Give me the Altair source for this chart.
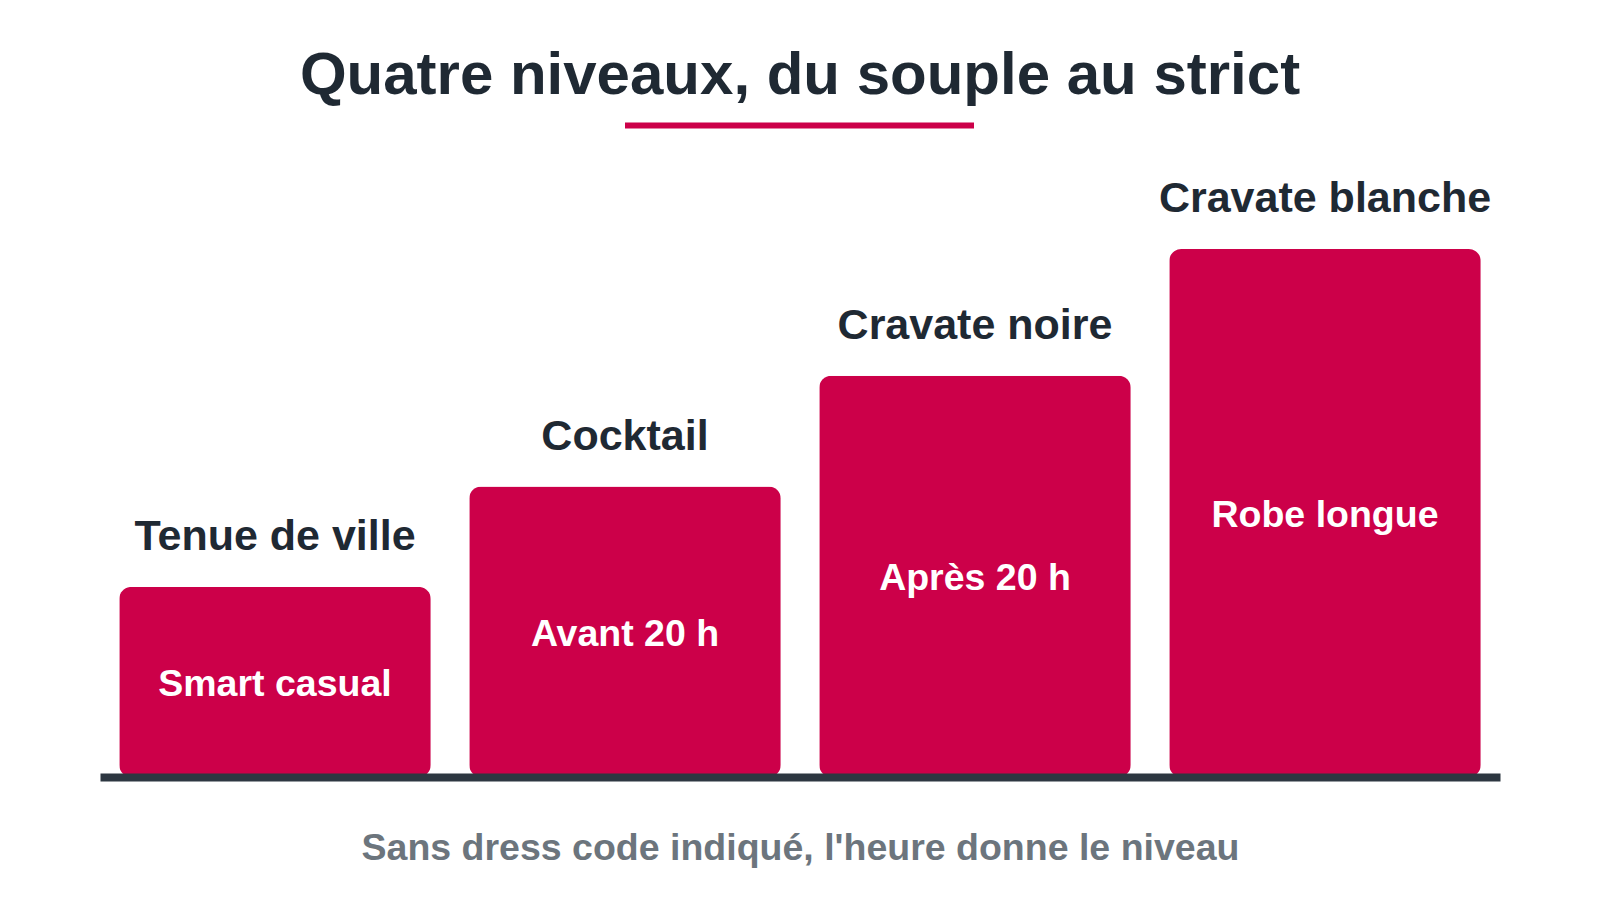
import altair as alt
import pandas as pd

# Données
niveaux = ["Tenue de ville", "Cocktail", "Cravate noire", "Cravate blanche"]
tenues = ["Smart casual", "Avant 20 h", "Après 20 h", "Robe longue"]
formalite = [36, 55, 76, 100]

titre = "Quatre niveaux, du souple au strict"
note = "Sans dress code indiqué, l'heure donne le niveau"

ROUGE = "#cc0049"
ENCRE = "#1f2933"
GRIS = "#6c757d"
FONT = "Liberation Sans"

df = pd.DataFrame({"niveau": niveaux, "tenue": tenues, "formalite": formalite})

base = alt.Chart(df).encode(
    x=alt.X(
        "niveau:N",
        sort=niveaux,
        scale=alt.Scale(paddingInner=0.11, paddingOuter=0.055),
        axis=alt.Axis(
            title=note,
            labels=False,
            ticks=False,
            grid=False,
            domainColor="#2d3741",
            domainWidth=8,
            titleFont=FONT,
            titleFontSize=37.5,
            titleFontWeight="bold",
            titleColor=GRIS,
            titleBaseline="alphabetic",
            titleAlign="center",
            titleX=700,
            titleY=82,
            zindex=1,
        ),
    )
)

y_scale = alt.Scale(domain=[0, 100], nice=False, zero=True)

bars = base.mark_bar(color=ROUGE, cornerRadius=12).encode(
    y=alt.Y("formalite:Q", scale=y_scale, axis=None)
)

labels_haut = base.mark_text(
    font=FONT, fontSize=43, fontWeight="bold", color=ENCRE,
    baseline="alphabetic", dy=-37,
).encode(
    y=alt.Y("formalite:Q", scale=y_scale, axis=None),
    text="niveau:N",
)

labels_dedans = base.transform_calculate(
    milieu="datum.formalite / 2"
).mark_text(
    font=FONT, fontSize=37.5, fontWeight="bold", color="white",
    baseline="middle", dy=3,
).encode(
    y=alt.Y("milieu:Q", scale=y_scale, axis=None),
    text="tenue:N",
)

# trait rouge sous le titre
trait = alt.Chart(pd.DataFrame({"t": [0]})).mark_rule(
    color=ROUGE, strokeWidth=6
).encode(x=alt.value(525), x2=alt.value(874), y=alt.value(-123.5))

chart = (
    alt.layer(bars, labels_haut, labels_dedans, trait)
    .properties(
        width=1400,
        height=528,
        padding={"left": 92, "top": 241, "right": 90, "bottom": 100},
        autosize=alt.AutoSizeParams(type="none"),
        title=alt.TitleParams(
            titre,
            font=FONT,
            fontSize=60,
            fontWeight="bold",
            color=ENCRE,
            anchor="middle",
            baseline="alphabetic",
            offset=27,
            dy=58,
        ),
    )
    .configure_view(stroke=None)
)

chart.save("out.html", embed_options={"renderer": "svg", "actions": False})
